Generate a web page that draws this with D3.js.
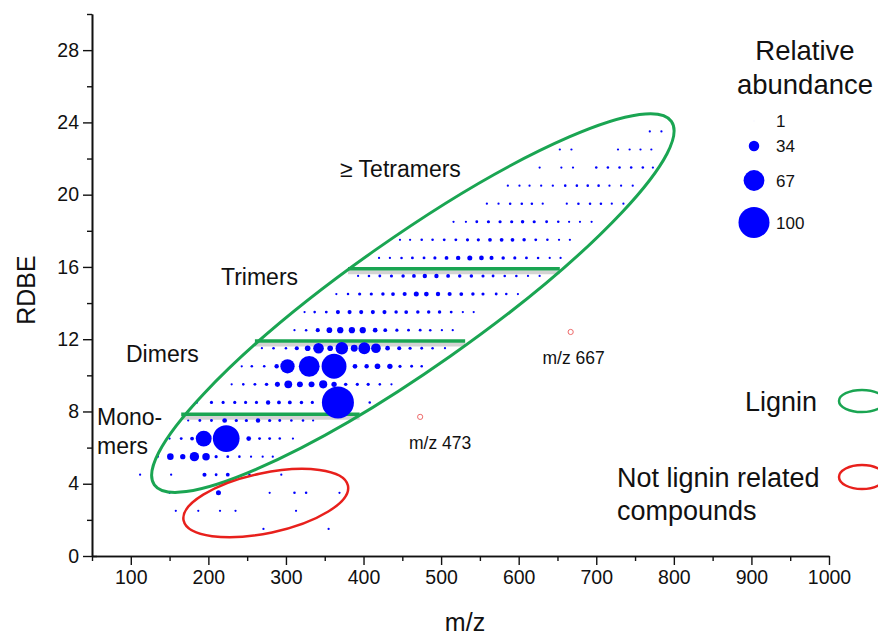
<!DOCTYPE html>
<html>
<head>
<meta charset="utf-8">
<script src="https://cdn.jsdelivr.net/npm/d3@7"></script>
<style>
	body { margin:0; background:#fff; }
	svg text { font-family:"Liberation Sans", Arial, sans-serif; fill:#111; }
</style>
</head>
<body>
<svg id="chart" width="878" height="639"></svg>
<script>
// RDBE rows (half-integer values) and the m/z + relative abundance of each spot in that row
var rdbeRows = [1.5, 2.5, 3.5, 4.5, 5.5, 6.5, 7.5, 8.5, 9.5, 10.5, 11.5, 12.5, 13.5, 14.5, 15.5, 16.5, 17.5, 18.5, 19.5, 20.5, 21.5, 22.5, 23.5];
var mzRows = [
	[271, 355],
	[158, 187, 215, 235, 313],
	[150, 213, 279, 311, 326, 369],
	[112, 152, 195, 210, 225, 253, 294],
	[135, 151, 167, 182, 197, 210, 225, 240, 255, 270, 283],
	[150, 165, 179, 194, 223, 252, 266, 279, 292, 309],
	[174, 189, 204, 221, 236, 249, 264, 279, 292, 307, 322, 335],
	[185, 204, 219, 234, 248, 262, 277, 291, 305, 320, 334, 367, 408],
	[230, 245, 260, 275, 289, 303, 318, 333, 348, 362, 377, 392, 406, 421, 436],
	[243, 256, 272, 288, 302, 330, 362, 389, 404, 418, 434, 447, 462, 475],
	[269, 284, 300, 314, 328, 342, 357, 372, 388, 401, 416, 431, 446, 460, 475, 489, 505],
	[311, 326, 341, 356, 370, 385, 399, 415, 428, 443, 458, 473, 486, 501, 515],
	[324, 337, 352, 367, 382, 397, 412, 427, 442, 455, 470, 484, 498, 513, 528, 542],
	[365, 380, 395, 410, 425, 438, 453, 468, 481, 496, 511, 526, 541, 554, 571, 584, 599],
	[393, 407, 421, 436, 451, 465, 479, 494, 509, 524, 539, 554, 567, 582, 597, 612, 627],
	[420, 434, 449, 463, 478, 492, 507, 522, 537, 552, 565, 580, 595, 610, 625, 640, 654],
	[447, 460, 475, 489, 504, 519, 534, 548, 563, 578, 592, 607, 622, 637, 652, 666],
	[516, 532, 546, 561, 576, 591, 605, 620, 636, 651, 665, 679, 694],
	[559, 574, 589, 604, 617, 631, 662, 677, 692, 706, 720, 735],
	[586, 601, 614, 629, 644, 660, 675, 689, 703, 717, 732, 747],
	[627, 655, 670, 700, 715, 730, 745, 760, 773],
	[653, 668, 728, 743, 757, 771],
	[769, 784]
];
var abundRows = [
	[4, 4],
	[4, 4, 4, 4, 4],
	[4, 13, 4, 5, 5, 4],
	[4, 4, 10, 6, 9, 5, 4],
	[4, 18, 14, 27, 21, 7, 6, 5, 4, 4, 4],
	[4, 6, 9, 48, 83, 12, 6, 6, 5, 4],
	[4, 6, 6, 12, 7, 7, 11, 7, 6, 5, 5, 4],
	[5, 7, 7, 7, 7, 7, 11, 9, 9, 8, 7, 100, 5],
	[4, 5, 6, 8, 13, 22, 16, 16, 23, 14, 8, 7, 7, 5, 4],
	[4, 5, 5, 11, 43, 64, 77, 12, 11, 15, 14, 7, 6, 5],
	[4, 5, 5, 10, 15, 31, 15, 37, 19, 35, 28, 12, 10, 7, 6, 5, 4],
	[4, 5, 10, 15, 17, 17, 17, 12, 9, 7, 6, 6, 5, 4, 4],
	[4, 5, 6, 10, 10, 10, 10, 10, 8, 9, 8, 8, 8, 6, 4, 4],
	[4, 5, 7, 7, 8, 9, 10, 13, 12, 11, 10, 9, 8, 7, 6, 5, 4],
	[4, 5, 6, 7, 8, 9, 11, 11, 9, 8, 8, 7, 6, 5, 5, 4, 4],
	[4, 4, 5, 6, 6, 7, 9, 11, 13, 12, 10, 8, 7, 6, 5, 4, 4],
	[4, 4, 5, 5, 6, 6, 7, 7, 9, 9, 9, 8, 6, 5, 4, 4],
	[4, 4, 6, 7, 7, 7, 8, 7, 6, 5, 4, 4, 4],
	[4, 4, 5, 5, 5, 4, 4, 5, 5, 5, 4, 4],
	[4, 4, 4, 4, 4, 5, 5, 5, 5, 4, 4, 4],
	[4, 4, 4, 5, 5, 5, 5, 5, 4],
	[4, 4, 4, 4, 4, 4],
	[4, 4]
];

// highlighted ions (hollow red markers)
var markedMz = [473, 667];
var markedRdbe = [7.7, 12.4];
var markedLabels = ["m/z 473", "m/z 667"];

// green class dividers: RDBE level, m/z start, m/z end
var dividerRdbe = [7.85, 11.9, 15.9];
var dividerFrom = [165, 260, 380];
var dividerTo = [395, 531, 653];

// class labels
var classNames = ["\u2265 Tetramers", "Trimers", "Dimers", "Mono-", "mers"];

var xTicks = [100, 200, 300, 400, 500, 600, 700, 800, 900, 1000];
var xMinor = [50, 150, 250, 350, 450, 550, 650, 750, 850, 950];
var yTicks = [0, 4, 8, 12, 16, 20, 24, 28];
var yMinor = [2, 6, 10, 14, 18, 22, 26, 30];

var legendValues = [1, 34, 67, 100];

var svg = d3.select("#chart");
var x = d3.scaleLinear().domain([50, 1000]).range([92, 829]);
var y = d3.scaleLinear().domain([0, 30]).range([556, 14]);
var r = d3.scaleLinear().domain([0, 100]).range([0.5, 16]);

var points = [];
for(var i = 0; i < rdbeRows.length; i++)
{
	for(var j = 0; j < mzRows[i].length; j++)
	{
		points.push({mz: mzRows[i][j], rdbe: rdbeRows[i], ab: abundRows[i][j]});
	}
}

// axes
function drawAxes()
{
	svg.append("g").attr("transform", "translate(0,556)")
		.call(d3.axisBottom(x).tickValues(xTicks).tickSize(9).tickSizeOuter(0).tickPadding(5).tickFormat(d3.format("d")));
	svg.append("g").attr("transform", "translate(0,556)")
		.call(d3.axisBottom(x).tickValues(xMinor).tickSize(5).tickSizeOuter(0).tickFormat(""));
	var yAxis = svg.append("g").attr("transform", "translate(92,0)")
		.call(d3.axisLeft(y).tickValues(yTicks).tickSize(9).tickSizeOuter(0).tickPadding(4));
	svg.append("g").attr("transform", "translate(92,0)")
		.call(d3.axisLeft(y).tickValues(yMinor).tickSize(5).tickSizeOuter(0).tickFormat(""));
	svg.selectAll(".domain").attr("stroke", "#111").attr("stroke-width", 1.6);
	svg.selectAll(".tick line").attr("stroke", "#111").attr("stroke-width", 1.4);
	svg.selectAll(".tick text").attr("font-size", 19.5).attr("fill", "#111")
		.attr("font-family", "Liberation Sans, Arial, sans-serif");
	// the 0 tick crosses the axis
	yAxis.selectAll(".tick").filter(function(d){ return d == 0; }).select("line").attr("x2", 5).attr("x1", -9);

	svg.append("text").attr("x", 465).attr("y", 631).attr("text-anchor", "middle")
		.attr("font-size", 25).text("m/z");
	svg.append("text").attr("transform", "translate(35,290) rotate(-90)").attr("text-anchor", "middle")
		.attr("font-size", 25).text("RDBE");
}

function drawDividers()
{
	for(var k = 0; k < dividerRdbe.length; k++)
	{
		svg.append("line").attr("x1", x(dividerFrom[k])).attr("x2", x(dividerTo[k]))
			.attr("y1", y(dividerRdbe[k]) + 3.5).attr("y2", y(dividerRdbe[k]) + 3.5)
			.attr("stroke", "#c9c9c9").attr("stroke-width", 4).attr("opacity", 0.8);
		svg.append("line").attr("x1", x(dividerFrom[k])).attr("x2", x(dividerTo[k]))
			.attr("y1", y(dividerRdbe[k])).attr("y2", y(dividerRdbe[k]))
			.attr("stroke", "#1aa552").attr("stroke-width", 3.5);
	}
}

function drawPoints()
{
	svg.append("g").selectAll("circle").data(points).enter().append("circle")
		.attr("cx", function(d){ return x(d.mz); })
		.attr("cy", function(d){ return y(d.rdbe); })
		.attr("r", function(d){ return r(d.ab); })
		.attr("fill", "#0000ff");

	for(var k = 0; k < markedMz.length; k++)
	{
		svg.append("circle").attr("cx", x(markedMz[k])).attr("cy", y(markedRdbe[k])).attr("r", 2.6)
			.attr("fill", "none").attr("stroke", "#ee6b6b").attr("stroke-width", 1);
	}
	svg.append("text").attr("x", x(markedMz[0]) + 20).attr("y", y(markedRdbe[0]) + 32)
		.attr("text-anchor", "middle").attr("font-size", 17.5).text(markedLabels[0]);
	svg.append("text").attr("x", x(markedMz[1]) + 3).attr("y", y(markedRdbe[1]) + 32)
		.attr("text-anchor", "middle").attr("font-size", 17.5).text(markedLabels[1]);
}

function drawEllipses()
{
	// lignin region
	var gx = x(463.6), gy = y(14.0);
	svg.append("ellipse").attr("cx", 0).attr("cy", 0).attr("rx", 316).attr("ry", 65)
		.attr("transform", "translate(" + gx + "," + gy + ") rotate(-35.1)")
		.attr("fill", "none").attr("stroke", "#1aa552").attr("stroke-width", 3);
	// non lignin region
	var rx0 = x(274), ry0 = y(2.93);
	svg.append("ellipse").attr("cx", 0).attr("cy", 0).attr("rx", 84).attr("ry", 30)
		.attr("transform", "translate(" + rx0 + "," + ry0 + ") rotate(-12)")
		.attr("fill", "none").attr("stroke", "#e8201c").attr("stroke-width", 2.5);
}

function drawLabels()
{
	svg.append("text").attr("x", 340).attr("y", 177).attr("font-size", 23).text(classNames[0]);
	svg.append("text").attr("x", 221).attr("y", 285).attr("font-size", 23).text(classNames[1]);
	svg.append("text").attr("x", 126).attr("y", 362).attr("font-size", 23).text(classNames[2]);
	svg.append("text").attr("x", 97).attr("y", 425).attr("font-size", 23).text(classNames[3]);
	svg.append("text").attr("x", 97).attr("y", 454).attr("font-size", 23).text(classNames[4]);
}

function drawLegend()
{
	svg.append("text").attr("x", 805).attr("y", 60).attr("text-anchor", "middle").attr("font-size", 27.5).text("Relative");
	svg.append("text").attr("x", 805).attr("y", 94).attr("text-anchor", "middle").attr("font-size", 27.5).text("abundance");
	var legendY = [121, 146, 180.5, 222.5];
	for(var k = 0; k < legendValues.length; k++)
	{
		svg.append("circle").attr("cx", 754).attr("cy", legendY[k]).attr("r", r(legendValues[k]) - 0.5).attr("fill", "#0000ff");
		svg.append("text").attr("x", 776).attr("y", legendY[k] + 6).attr("font-size", 17).text(legendValues[k]);
	}

	svg.append("text").attr("x", 745).attr("y", 411).attr("font-size", 27).text("Lignin");
	svg.append("ellipse").attr("cx", 862).attr("cy", 401).attr("rx", 23).attr("ry", 11)
		.attr("fill", "none").attr("stroke", "#1aa552").attr("stroke-width", 2.5);
	svg.append("text").attr("x", 617).attr("y", 487).attr("font-size", 27).text("Not lignin related");
	svg.append("text").attr("x", 617).attr("y", 520).attr("font-size", 27).text("compounds");
	svg.append("ellipse").attr("cx", 862).attr("cy", 477).attr("rx", 23).attr("ry", 12)
		.attr("fill", "none").attr("stroke", "#e8201c").attr("stroke-width", 2.5);
}

drawDividers();
drawPoints();
drawEllipses();
drawAxes();
drawLabels();
drawLegend();
</script>
</body>
</html>
